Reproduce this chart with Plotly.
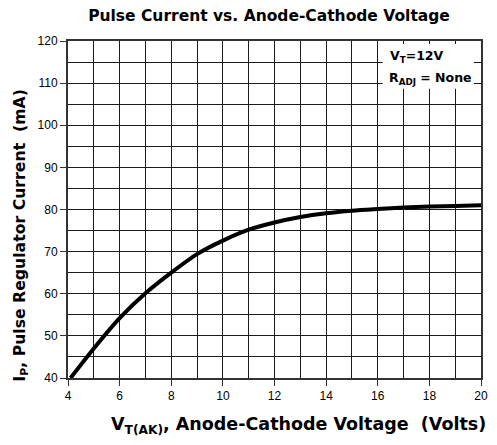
import plotly.graph_objects as go

voltage = [4.1, 5, 6, 7, 8, 9, 10, 11, 12, 13, 14, 15, 16, 17, 18, 19, 20]
current = [40, 47, 54.2, 60.1, 65, 69.4, 72.6, 75.2, 76.9, 78.2, 79.1, 79.7, 80.1, 80.45, 80.7, 80.85, 81.0]

x_ticks = [4, 6, 8, 10, 12, 14, 16, 18, 20]
y_ticks = [40, 50, 60, 70, 80, 90, 100, 110, 120]

TICKFONT = "Liberation Sans, Arial, sans-serif"
BOLDFONT = "DejaVu Sans, sans-serif"
GRID = "#1a1a1a"

# page body has an 8px margin, so the figure is sized 8px smaller on each leading side
W, H = 489, 437

fig = go.Figure()
fig.add_trace(go.Scatter(
    x=voltage, y=current, mode="lines",
    line=dict(color="black", width=4, shape="spline", smoothing=0.8),
    hoverinfo="skip", showlegend=False,
))

fig.update_layout(
    width=W, height=H,
    margin=dict(l=60, r=9, t=33, b=67),
    paper_bgcolor="white", plot_bgcolor="white",
    font=dict(family=TICKFONT, color="black", size=12),
    title=dict(text="<b>Pulse Current vs. Anode-Cathode Voltage</b>",
               font=dict(size=15.5, family=BOLDFONT, color="black"),
               x=261 / W, xref="container", xanchor="center",
               y=1 - 8 / H, yref="container", yanchor="middle"),
    xaxis=dict(
        range=[4, 20], tickvals=x_ticks, ticktext=[str(v) for v in x_ticks],
        showgrid=True, gridcolor=GRID, gridwidth=1,
        minor=dict(dtick=1, tick0=4, showgrid=True, gridcolor=GRID, gridwidth=1),
        ticks="outside", ticklen=6, tickcolor="#333", tickwidth=1,
        showline=True, linecolor="#333", linewidth=2, mirror=True,
        zeroline=False, tickfont=dict(size=12),
    ),
    yaxis=dict(
        range=[40, 120], tickvals=y_ticks, ticktext=[str(v) for v in y_ticks],
        showgrid=True, gridcolor=GRID, gridwidth=1,
        minor=dict(dtick=5, tick0=40, showgrid=True, gridcolor=GRID, gridwidth=1),
        ticks="outside", ticklen=6, tickcolor="#333", tickwidth=1,
        showline=True, linecolor="#333", linewidth=2, mirror=True,
        zeroline=False, tickfont=dict(size=12),
    ),
)

# axis titles
fig.add_annotation(text="<b>V<sub>T(AK)</sub>, Anode-Cathode Voltage  (Volts)</b>",
                   xref="paper", yref="paper", x=0.557, y=-0.14,
                   xanchor="center", yanchor="middle", showarrow=False,
                   font=dict(size=17.5, family=BOLDFONT, color="black"))
fig.add_annotation(text="<b>I<sub>P</sub>, Pulse Regulator Current  (mA)</b>",
                   xref="paper", yref="paper", x=-0.114, y=0.425, textangle=-90,
                   xanchor="center", yanchor="middle", showarrow=False,
                   font=dict(size=15.7, family=BOLDFONT, color="black"))

# condition box
fig.add_shape(type="rect", xref="x domain", yref="y domain",
              x0=0.762, x1=0.983, y0=0.858, y1=0.991,
              fillcolor="white", line=dict(width=0), layer="above")
fig.add_annotation(text="<b>V<sub>T</sub>=12V</b>", xref="x domain", yref="y domain",
                   x=0.775, y=0.955, xanchor="left", yanchor="middle", showarrow=False,
                   font=dict(size=12.5, family=BOLDFONT, color="black"))
fig.add_annotation(text="<b>R<sub>ADJ</sub> = None</b>", xref="x domain", yref="y domain",
                   x=0.772, y=0.888, xanchor="left", yanchor="middle", showarrow=False,
                   font=dict(size=12.5, family=BOLDFONT, color="black"))

fig.write_html("out.html")
